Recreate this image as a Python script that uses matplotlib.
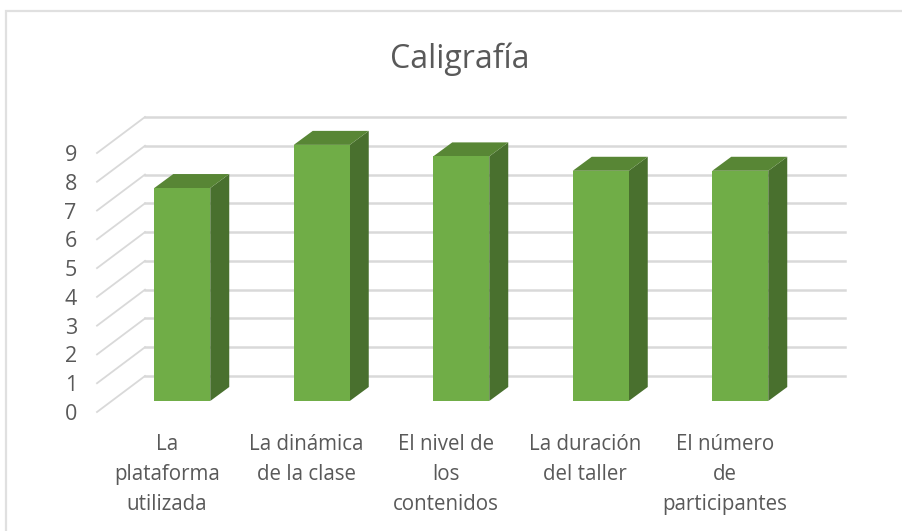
import matplotlib
matplotlib.use("Agg")
import matplotlib.pyplot as plt
from matplotlib.lines import Line2D
from matplotlib.patches import Polygon

W, H = 903, 531
plt.rcParams['font.family'] = ['Open Sans', 'DejaVu Sans']

title = "Caligrafía"
categories = ["La\nplataforma\nutilizada", "La dinámica\nde la clase", "El nivel de\nlos\ncontenidos",
              "La duración\ndel taller", "El número\nde\nparticipantes"]
values = [7.4, 8.9, 8.5, 8.0, 8.0]
yticks = list(range(10))

FRONT, SIDE, TOP = "#70AD47", "#49702E", "#588635"
GRID, TEXT = "#D9D9D9", "#595959"

fig = plt.figure(figsize=(W / 100, H / 100), dpi=100, facecolor="white")
# front plane of the floor/walls, in pixels
L, R, Y0, Y9 = 97, 794.5, 412, 153
ax = fig.add_axes([L / W, 1 - Y0 / H, (R - L) / W, (Y0 - Y9) / H])
ax.set_xlim(-0.5, 4.5)
ax.set_ylim(0, 9)
ax.patch.set_visible(False)
for s in ax.spines.values():
    s.set_visible(False)

px_x = 5 / (R - L)
px_y = 9 / (Y0 - Y9)
WALL_DX, WALL_DY = 48 * px_x, 36 * px_y
BAR_DX, BAR_DY = 15.5 * px_x, 11 * px_y
DEPTH_DX, DEPTH_DY = 19 * px_x, 14 * px_y
BAR_W = 56 * px_x

# gridlines: slanted side wall + back wall
for t in yticks:
    ax.plot([-0.5, -0.5 + WALL_DX], [t, t + WALL_DY], color=GRID, lw=1.3,
            clip_on=False, zorder=1)
    ax.plot([-0.5 + WALL_DX, 4.5 + WALL_DX + 2.5 * px_x], [t + WALL_DY, t + WALL_DY], color=GRID, lw=1.8,
            clip_on=False, zorder=1)

# bars
for i, v in enumerate(values):
    x0 = i + BAR_DX - BAR_W / 2
    x1 = x0 + BAR_W
    y0, y1 = BAR_DY, v + BAR_DY
    ax.add_patch(Polygon([(x1, y0), (x1 + DEPTH_DX, y0 + DEPTH_DY), (x1 + DEPTH_DX, y1 + DEPTH_DY), (x1, y1)],
                         fc=SIDE, ec="none", zorder=2, clip_on=False))
    ax.add_patch(Polygon([(x0, y1), (x0 + DEPTH_DX, y1 + DEPTH_DY), (x1 + DEPTH_DX, y1 + DEPTH_DY), (x1, y1)],
                         fc=TOP, ec="none", zorder=2, clip_on=False))
ax.bar([i + BAR_DX for i in range(len(values))], values, width=BAR_W, bottom=BAR_DY,
       color=FRONT, zorder=3, clip_on=False)

ax.set_yticks(yticks)
ax.set_xticks(range(len(categories)))
ax.set_xticklabels(categories, linespacing=1.56)
ax.tick_params(axis="y", length=0, pad=14.5, labelsize=15.5, labelcolor=TEXT)
ax.tick_params(axis="x", length=0, pad=16, labelsize=14.8, labelcolor=TEXT)
for lab in ax.get_yticklabels():
    lab.set_y(lab.get_position()[1])

fig.text(460 / W, 1 - 59 / H, title, ha="center", va="center", fontsize=23, color=TEXT)
fig.add_artist(Line2D([6.5 / W, 6.5 / W, 1], [0, 1 - 11 / H, 1 - 11 / H], transform=fig.transFigure,
                      color="#E0E0E0", lw=1.6, solid_joinstyle="miter"))
fig.savefig("out.png", dpi=100)
